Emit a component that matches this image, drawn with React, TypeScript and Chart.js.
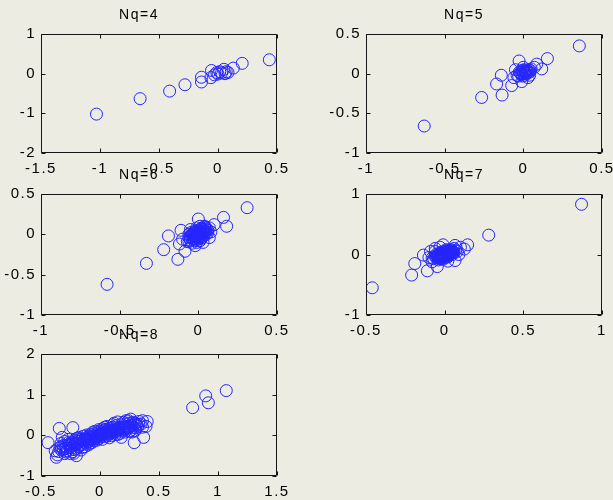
import React, { useEffect, useRef } from 'react';
import { Chart, registerables } from 'chart.js';

Chart.register(...registerables);

// ---------- data ----------
const titles = ['Nq=4', 'Nq=5', 'Nq=6', 'Nq=7', 'Nq=8'];
const xLimits = [[-1.5, 0.5], [-1, 0.5], [-1, 0.5], [-0.5, 1], [-0.5, 1.5]];
const yLimits = [[-2, 1], [-1, 0.5], [-1, 0.5], [-1, 1], [-1, 2]];
const xSteps = [0.5, 0.5, 0.5, 0.5, 0.5];
const ySteps = [1, 0.5, 0.5, 1, 1];

const nq4Points = [
  [-1.03, -1.02], [-0.66, -0.63], [-0.41, -0.44], [-0.28, -0.28], [-0.14, -0.09],
  [-0.14, -0.21], [-0.06, -0.1], [-0.055, 0.08], [-0.03, -0.03], [0.0, -0.01],
  [0.015, 0.05], [0.03, 0.02], [0.05, 0.11], [0.07, 0.05], [0.085, 0.03],
  [0.13, 0.14], [0.205, 0.26], [0.435, 0.35], [-0.01, 0.03], [0.06, 0.0],
];

const nq5Points = [
  [-0.63, -0.66], [-0.265, -0.3], [-0.135, -0.27], [-0.17, -0.13], [-0.14, -0.02],
  [-0.074, -0.15], [-0.027, 0.16], [-0.05, 0.05], [-0.01, -0.1], [0.085, 0.12],
  [0.117, 0.06], [0.153, 0.19], [0.356, 0.35], [-0.06, -0.05], [-0.04, -0.02],
  [0.0, 0.08], [0.05, 0.06], [0.07, 0.08], [0.04, -0.02], [0.03, -0.05],
  [0.0, 0.0], [0.01, 0.02], [-0.01, -0.01], [0.02, 0.0], [0.0, 0.03],
  [-0.02, 0.01], [0.03, 0.03], [0.02, 0.04], [-0.01, 0.04], [0.01, -0.02],
  [-0.03, -0.03], [0.04, 0.02], [0.015, 0.01], [-0.015, -0.005], [0.025, 0.015],
  [0.005, 0.05], [-0.025, 0.02], [0.035, 0.05], [0.045, 0.04], [-0.005, -0.03],
];

const nq6Points = [
  [-0.58, -0.62], [-0.33, -0.36], [-0.22, -0.19], [-0.13, -0.31], [-0.19, -0.02],
  [-0.11, 0.05], [-0.085, -0.21], [-0.12, -0.12], [0.0, 0.19], [-0.02, -0.14],
  [0.03, -0.1], [0.07, -0.04], [0.1, 0.12], [0.16, 0.21], [0.18, 0.1],
  [0.31, 0.33], [-0.1, -0.06], [-0.06, -0.09], [0.05, 0.08], [0.08, 0.03],
  [-0.05, 0.06], [0.04, 0.1],
  [0.0, 0.0], [0.01, 0.02], [-0.01, -0.02], [0.02, 0.01], [-0.02, -0.03],
  [0.03, 0.04], [-0.03, -0.05], [0.04, 0.02], [-0.04, -0.01], [0.05, 0.06],
  [-0.05, -0.07], [0.02, 0.07], [-0.02, 0.03], [0.06, 0.02], [-0.06, -0.04],
  [0.0, 0.05], [0.0, -0.06], [0.03, -0.02], [-0.03, 0.02], [0.07, 0.08],
  [-0.07, -0.09], [0.01, 0.1], [-0.01, -0.1], [0.05, 0.0], [-0.05, 0.02],
  [0.04, 0.09], [-0.04, -0.11], [0.06, 0.05], [-0.06, 0.0], [0.02, -0.05],
  [0.035, 0.03], [-0.015, 0.015], [0.015, -0.03], [-0.025, -0.08],
  [0.005, 0.01], [-0.005, -0.015], [0.012, 0.03], [-0.012, -0.035], [0.025, 0.005],
  [-0.025, -0.01], [0.018, 0.045], [-0.018, -0.05], [0.032, 0.02], [-0.032, -0.025],
  [0.008, -0.025], [-0.008, 0.025], [0.028, 0.06], [-0.028, -0.06], [0.042, 0.04],
  [-0.042, -0.03], [0.015, 0.07], [-0.015, -0.07], [0.038, 0.01], [-0.038, 0.0],
  [0.022, -0.04], [-0.022, 0.04], [0.05, 0.03], [-0.05, -0.03], [0.01, -0.08],
  [-0.01, 0.08],
];

const nq7Points = [
  [-0.46, -0.55], [-0.21, -0.34], [-0.19, -0.15], [-0.11, -0.27], [-0.135, -0.01],
  [-0.08, -0.12], [-0.047, -0.2], [-0.01, 0.16], [0.066, 0.15], [0.125, 0.09],
  [0.146, 0.16], [0.066, -0.1], [0.28, 0.32], [0.87, 0.83], [-0.09, 0.05],
  [-0.1, -0.05], [0.1, 0.12], [0.09, 0.0], [-0.06, 0.1], [0.02, -0.11],
  [-0.03, 0.12],
  [0.0, 0.0], [0.01, 0.02], [-0.01, -0.02], [0.02, 0.01], [-0.02, 0.0],
  [0.03, 0.04], [-0.03, -0.04], [0.04, 0.02], [-0.04, -0.01], [0.05, 0.05],
  [-0.05, -0.05], [0.02, 0.06], [-0.02, -0.06], [0.06, 0.03], [-0.06, -0.03],
  [0.0, 0.05], [0.0, -0.05], [0.03, -0.01], [-0.03, 0.02], [0.07, 0.07],
  [-0.07, -0.07], [0.01, 0.08], [-0.01, -0.08], [0.05, 0.0], [-0.05, 0.01],
  [0.04, 0.08], [-0.04, -0.09], [0.08, 0.05], [-0.08, -0.06], [0.06, 0.1],
  [-0.06, 0.05], [0.02, -0.04], [-0.02, 0.04], [0.035, 0.03], [-0.015, 0.015],
  [0.015, -0.015], [0.045, 0.06], [-0.045, -0.03],
  [0.005, 0.01], [-0.005, -0.01], [0.012, 0.025], [-0.012, -0.025], [0.025, 0.005],
  [-0.025, -0.005], [0.018, 0.035], [-0.018, -0.035], [0.032, 0.018], [-0.032, -0.018],
  [0.008, -0.02], [-0.008, 0.02], [0.028, 0.045], [-0.028, -0.045], [0.042, 0.035],
  [-0.042, -0.02], [0.015, 0.05], [-0.015, -0.05], [0.038, 0.01], [-0.038, 0.0],
  [0.022, -0.03], [-0.022, 0.03], [0.05, 0.03], [-0.05, -0.02], [0.01, 0.065],
  [-0.01, -0.065], [0.055, 0.045], [-0.055, -0.045], [0.03, 0.07], [-0.03, -0.07],
];

const nq8Points = [
  [-0.44, -0.18], [-0.345, 0.17], [-0.23, 0.19], [-0.37, -0.54], [-0.36, -0.48],
  [-0.38, -0.38], [-0.32, -0.05], [-0.33, -0.28], [-0.29, -0.41], [-0.2, -0.5],
  [-0.25, -0.35], [-0.22, -0.44], [0.29, -0.18], [0.37, -0.05], [0.4, 0.34],
  [0.26, 0.4], [0.33, 0.27], [0.36, 0.2], [0.3, 0.12], [0.22, 0.36],
  [0.15, 0.33], [0.18, -0.05], [0.25, 0.1], [0.39, 0.22],
  [0.785, 0.68], [0.896, 0.97], [0.918, 0.8], [1.07, 1.1],
  [-0.34, -0.3], [-0.33, -0.2], [-0.31, -0.35], [-0.3, -0.15], [-0.29, -0.26],
  [-0.28, -0.38], [-0.27, -0.1], [-0.26, -0.22], [-0.25, -0.3], [-0.24, -0.16],
  [-0.23, -0.4], [-0.22, -0.25], [-0.21, -0.12], [-0.2, -0.32], [-0.19, -0.2],
  [-0.18, -0.05], [-0.18, -0.28], [-0.17, -0.15], [-0.16, -0.36], [-0.16, -0.1],
  [-0.15, -0.22], [-0.14, -0.02], [-0.14, -0.16], [-0.13, -0.28], [-0.12, -0.08],
  [-0.12, -0.19], [-0.11, -0.12], [-0.1, -0.24], [-0.1, -0.03], [-0.09, -0.15],
  [-0.08, -0.08], [-0.08, 0.02], [-0.07, -0.18], [-0.07, -0.11], [-0.06, -0.04],
  [-0.05, -0.14], [-0.05, 0.04], [-0.04, -0.07], [-0.03, -0.01], [-0.03, -0.12],
  [-0.02, 0.06], [-0.02, -0.05], [-0.01, -0.09], [0.0, 0.0], [0.0, 0.09],
  [0.01, -0.04], [0.01, 0.04], [0.02, -0.1], [0.03, 0.02], [0.03, 0.12],
  [0.04, -0.03], [0.05, 0.06], [0.05, 0.15], [0.06, -0.02], [0.07, 0.09],
  [0.07, 0.02], [0.08, 0.17], [0.09, 0.05], [0.1, 0.12], [0.1, -0.01],
  [0.11, 0.2], [0.12, 0.08], [0.13, 0.14], [0.13, 0.02], [0.14, 0.24],
  [0.15, 0.1], [0.16, 0.17], [0.17, 0.05], [0.18, 0.26], [0.19, 0.13],
  [0.2, 0.2], [0.21, 0.08], [0.22, 0.28], [0.23, 0.16], [0.24, 0.22],
  [0.25, 0.3], [0.26, 0.12], [0.27, 0.24], [0.28, 0.32], [0.3, 0.18],
  [0.31, 0.26], [0.33, 0.34], [0.35, 0.28], [0.36, 0.36], [-0.06, 0.08],
  [-0.11, 0.01], [-0.2, -0.08], [-0.27, -0.24], [-0.35, -0.4], [0.04, 0.2],
  [0.08, -0.06], [0.15, 0.02], [0.2, 0.32], [-0.01, 0.14], [-0.15, -0.3],
  [-0.22, -0.35], [0.11, 0.26], [0.02, 0.16], [-0.04, 0.1], [-0.09, -0.2],
  [-0.17, -0.24], [0.06, 0.22], [0.12, 0.3], [0.18, 0.18], [0.24, 0.36],
  [0.27, 0.08], [-0.3, -0.45], [-0.25, -0.45],
  [-0.15, -0.12], [-0.13, -0.1], [-0.11, -0.06], [-0.09, -0.1], [-0.07, -0.04],
  [-0.05, -0.08], [-0.03, -0.04], [-0.01, 0.01], [0.01, 0.0], [0.02, 0.06],
  [0.04, 0.04], [0.06, 0.08], [0.08, 0.05], [0.09, 0.11], [0.11, 0.09],
  [0.12, 0.14], [0.14, 0.11], [0.16, 0.13], [0.17, 0.2], [0.19, 0.17],
  [0.21, 0.15], [0.22, 0.22], [0.24, 0.18], [0.26, 0.26], [0.28, 0.2],
  [0.29, 0.28], [0.32, 0.22], [-0.19, -0.14], [-0.21, -0.2], [-0.23, -0.18],
  [-0.25, -0.24], [-0.27, -0.18], [-0.29, -0.32], [-0.31, -0.25], [-0.33, -0.36],
  [-0.12, -0.14], [-0.06, -0.01], [0.0, 0.04], [0.05, 0.1], [0.1, 0.06],
  [0.15, 0.16], [0.2, 0.12], [0.25, 0.2], [0.3, 0.3], [-0.2, -0.22],
  [-0.1, -0.12], [-0.17, -0.08], [0.13, 0.18], [0.07, 0.13], [-0.02, -0.02],
];

const allPoints = [nq4Points, nq5Points, nq6Points, nq7Points, nq8Points];

// ---------- layout / style ----------
const BG = '#edece2';
const MARK = '#2424ff';
const AXIS = '#151515';
const FONT = "'Liberation Sans', Arial, Helvetica, sans-serif";
const boxes = [
  { L: 41, T: 34, R: 277, B: 153 },
  { L: 366, T: 34, R: 602, B: 153 },
  { L: 41, T: 194, R: 277, B: 315 },
  { L: 366, T: 194, R: 602, B: 315 },
  { L: 41, T: 354, R: 277, B: 476 },
];
const PAD_L = 40, PAD_T = 34, PAD_R = 20, PAD_B = 26;

const fmt = (v: any) => String(Math.round(Number(v) * 100) / 100);

const framePlugin = {
  id: 'matlabFrame',
  beforeDraw(chart: any) {
    chart.ctx.letterSpacing = '1.5px';
  },
  afterDraw(chart: any) {
    const { ctx, chartArea } = chart;
    const { left, top, right, bottom } = chartArea;
    const xs = chart.scales.x;
    const ys = chart.scales.y;
    ctx.save();
    ctx.strokeStyle = AXIS;
    ctx.lineWidth = 1;
    const l = Math.round(left) + 0.5, r = Math.round(right) - 0.5;
    const t = Math.round(top) + 0.5, b = Math.round(bottom) - 0.5;
    ctx.beginPath();
    ctx.rect(l, t, r - l, b - t);
    const tl = 4;
    xs.ticks.forEach((tk: any) => {
      const px = Math.round(xs.getPixelForValue(tk.value)) + 0.5;
      ctx.moveTo(px, b); ctx.lineTo(px, b - tl);
      ctx.moveTo(px, t); ctx.lineTo(px, t + tl);
    });
    ys.ticks.forEach((tk: any) => {
      const py = Math.round(ys.getPixelForValue(tk.value)) + 0.5;
      ctx.moveTo(l, py); ctx.lineTo(l + tl, py);
      ctx.moveTo(r, py); ctx.lineTo(r - tl, py);
    });
    ctx.stroke();
    ctx.restore();
  },
};

function Panel({ idx }: { idx: number }) {
  const ref = useRef<HTMLCanvasElement | null>(null);
  const box = boxes[idx];
  const w = box.R - box.L + PAD_L + PAD_R;
  const h = box.B - box.T + PAD_T + PAD_B;

  useEffect(() => {
    if (!ref.current) return;
    const pts = allPoints[idx].map(([x, y]) => ({ x, y }));
    const chart = new Chart(ref.current, {
      type: 'scatter',
      data: {
        datasets: [
          {
            data: pts,
            pointStyle: 'circle',
            pointRadius: 6,
            pointBorderWidth: 1,
            borderColor: MARK,
            backgroundColor: 'rgba(0,0,0,0)',
            showLine: false,
          },
        ],
      },
      options: {
        animation: false,
        responsive: false,
        events: [],
        layout: { padding: { left: 0, right: PAD_R, top: 0, bottom: 0 } },
        plugins: {
          legend: { display: false },
          tooltip: { enabled: false },
          title: {
            display: true,
            text: titles[idx],
            color: '#000',
            font: { family: FONT, size: 14, weight: 'normal', lineHeight: '16px' },
            padding: { top: 7, bottom: 11 },
          },
        },
        scales: {
          x: {
            type: 'linear',
            min: xLimits[idx][0],
            max: xLimits[idx][1],
            ticks: {
              stepSize: xSteps[idx],
              padding: 7,
              color: '#000',
              maxRotation: 0,
              autoSkip: false,
              callback: fmt,
              font: { family: FONT, size: 15 },
            },
            grid: { display: false, drawTicks: false },
            border: { display: false },
            afterFit: (s: any) => { s.height = PAD_B; },
          },
          y: {
            type: 'linear',
            min: yLimits[idx][0],
            max: yLimits[idx][1],
            ticks: {
              stepSize: ySteps[idx],
              padding: 5,
              color: '#000',
              autoSkip: false,
              callback: fmt,
              font: { family: FONT, size: 15 },
            },
            grid: { display: false, drawTicks: false },
            border: { display: false },
            afterFit: (s: any) => { s.width = PAD_L; },
          },
        },
      } as any,
      plugins: [framePlugin],
    });
    return () => chart.destroy();
  }, [idx]);

  return (
    <canvas
      ref={ref}
      width={w}
      height={h}
      style={{ position: 'absolute', left: box.L - PAD_L, top: box.T - PAD_T, width: w, height: h }}
    />
  );
}

export default function App() {
  useEffect(() => {
    document.body.style.margin = '0';
    document.body.style.background = BG;
  }, []);
  return (
    <div
      style={{
        position: 'fixed',
        left: 0,
        top: 0,
        width: 613,
        height: 500,
        background: BG,
        overflow: 'hidden',
      }}
    >
      {titles.map((_, i) => (
        <Panel key={i} idx={i} />
      ))}
    </div>
  );
}
